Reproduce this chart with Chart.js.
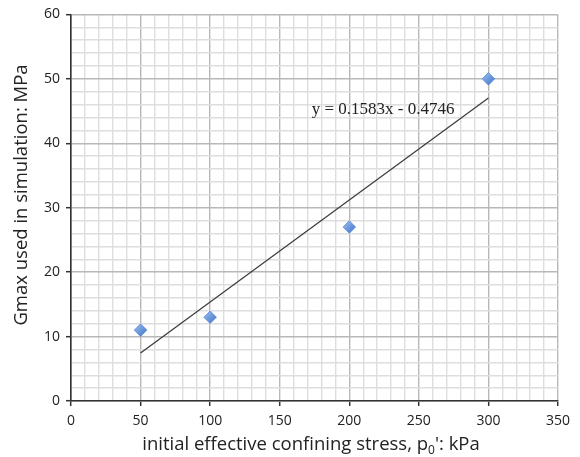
<!DOCTYPE html>
<html><head><meta charset="utf-8">
<script src="https://cdn.jsdelivr.net/npm/chart.js@4"></script>
<style>html,body{margin:0;padding:0;background:#fff}#wrap{width:580px;height:457px}</style>
</head><body><div id="wrap"><canvas id="c" width="580" height="457"></canvas></div>
<script>
const pressures = [50, 100, 200, 300];
const gmaxValues = [11, 13, 27, 50];
const trendSlope = 0.1583;
const trendIntercept = -0.4746;
const trendLabel = "y = 0.1583x - 0.4746";
const xTicks = [0, 50, 100, 150, 200, 250, 300, 350];
const yTicks = [0, 10, 20, 30, 40, 50, 60];

const pts = pressures.map((x, i) => ({x: x, y: gmaxValues[i]}));
const xMin = Math.min(...pressures), xMax = Math.max(...pressures);
const trend = [{x: xMin, y: trendSlope * xMin + trendIntercept}, {x: xMax, y: trendSlope * xMax + trendIntercept}];

const ctx = document.getElementById('c').getContext('2d');
const fontSans = "'Open Sans', 'Liberation Sans', sans-serif";

function markerFill(c) {
  const el = c.element;
  if (!el || el.y === undefined) return '#6a9ae0';
  const g = c.chart.ctx.createLinearGradient(el.x - 6, el.y - 6, el.x + 6, el.y + 6);
  g.addColorStop(0, '#9cc0f2');
  g.addColorStop(1, '#3f74c8');
  return g;
}

const textPlugin = {
  id: 'texts',
  afterDraw(chart) {
    const c = chart.ctx, xs = chart.scales.x, ys = chart.scales.y, ca = chart.chartArea;
    c.save();
    c.fillStyle = '#222';
    c.font = "17px 'Liberation Serif', 'Times New Roman', serif";
    c.textBaseline = 'alphabetic';
    c.textAlign = 'left';
    c.fillText(trendLabel, xs.getPixelForValue(173), ys.getPixelForValue(44.6));
    c.font = "18.5px " + fontSans;
    c.translate(22, 195);
    c.rotate(-Math.PI / 2);
    c.textAlign = 'center';
    c.textBaseline = 'middle';
    c.fillText("Gmax used in simulation: MPa", 0, 0);
    c.restore();
    c.save();
    c.fillStyle = '#222';
    c.textBaseline = 'alphabetic';
    const partA = "initial effective confining stress, p", sub = "0", partB = "': kPa";
    c.font = "18.5px " + fontSans;
    const wA = c.measureText(partA).width, wB = c.measureText(partB).width;
    c.font = "12px " + fontSans;
    const wS = c.measureText(sub).width;
    const total = wA + wS + wB;
    let x0 = 311 - total / 2;
    const base = 450;
    c.font = "18.5px " + fontSans;
    c.fillText(partA, x0, base);
    c.font = "12px " + fontSans;
    c.fillText(sub, x0 + wA, base + 4);
    c.font = "18.5px " + fontSans;
    c.fillText(partB, x0 + wA + wS, base);
    c.restore();
  }
};

new Chart(ctx, {
  type: 'scatter',
  data: {
    datasets: [
      {
        label: 'Gmax',
        data: pts,
        pointStyle: 'rectRot',
        pointRadius: 6.3,
        pointHoverRadius: 6.3,
        backgroundColor: markerFill,
        borderColor: '#5b8bd6',
        borderWidth: 0.8,
        order: 1
      },
      {
        label: 'trend',
        type: 'line',
        data: trend,
        borderColor: '#3a3a3a',
        borderWidth: 1.2,
        pointRadius: 0,
        fill: false,
        order: 2
      }
    ]
  },
  options: {
    responsive: false,
    animation: false,
    events: [],
    layout: {padding: {left: 0, right: 22, top: 14, bottom: 0}},
    plugins: {legend: {display: false}, tooltip: {enabled: false}},
    scales: {
      x: {
        type: 'linear',
        min: xTicks[0], max: xTicks[xTicks.length - 1],
        afterFit(s) { s.height = 56; },
        afterBuildTicks(s) {
          const t = [];
          for (let v = xTicks[0]; v <= xTicks[xTicks.length - 1]; v += 10) t.push({value: v});
          s.ticks = t;
        },
        ticks: {
          autoSkip: false, maxRotation: 0, padding: 7,
          color: '#222', font: {family: fontSans, size: 14},
          callback: v => xTicks.includes(v) ? String(v) : ''
        },
        grid: {
          color: c => (c.tick && xTicks.includes(c.tick.value)) ? '#b8b8b8' : '#dedede',
          lineWidth: 1.4,
          tickLength: 5,
          tickColor: c => (c.tick && xTicks.includes(c.tick.value)) ? '#333' : 'rgba(0,0,0,0)',
          tickWidth: 1.5
        },
        border: {display: true, color: '#333', width: 1.6}
      },
      y: {
        type: 'linear',
        min: yTicks[0], max: yTicks[yTicks.length - 1],
        afterFit(s) { s.width = 71; },
        afterBuildTicks(s) {
          const t = [];
          for (let v = yTicks[0]; v <= yTicks[yTicks.length - 1]; v += 2) t.push({value: v});
          s.ticks = t;
        },
        ticks: {
          autoSkip: false, padding: 6,
          color: '#222', font: {family: fontSans, size: 14},
          callback: v => yTicks.includes(v) ? String(v) : ''
        },
        grid: {
          color: c => (c.tick && yTicks.includes(c.tick.value)) ? '#b8b8b8' : '#dedede',
          lineWidth: 1.4,
          tickLength: 5,
          tickColor: c => (c.tick && yTicks.includes(c.tick.value)) ? '#333' : 'rgba(0,0,0,0)',
          tickWidth: 1.5
        },
        border: {display: true, color: '#333', width: 1.6}
      }
    }
  },
  plugins: [textPlugin]
});
</script></body></html>
